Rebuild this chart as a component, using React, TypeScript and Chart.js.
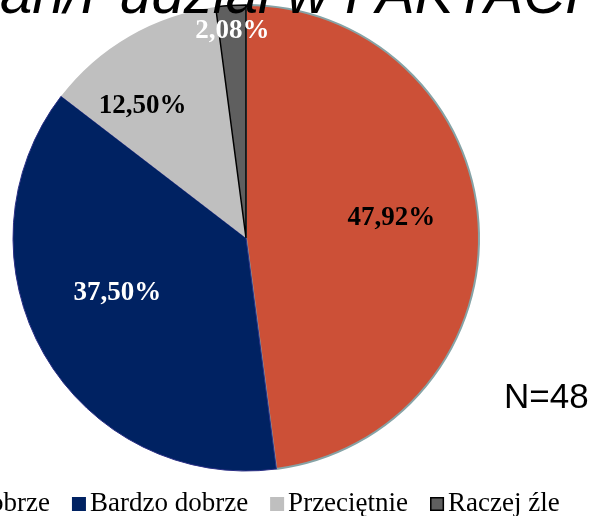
import React, { useEffect, useRef } from "react";
import { Chart, registerables } from "chart.js";

Chart.register(...registerables);

// ---- data ----
const categories = ["Raczej dobrze", "Bardzo dobrze", "Przeciętnie", "Raczej źle"];
const percentages = [47.92, 37.5, 12.5, 2.08];
const percentLabels = ["47,92%", "37,50%", "12,50%", "2,08%"];
const titleText = "an/Pudział w FAKTACH";
const sampleNote = "N=48";

// ---- styles ----
const sliceColors = ["#CC5037", "#002262", "#BFBFBF", "#5F5F5F"];
const sliceBorderColors = ["#86A3A6", "#2B2F85", "#BFBFBF", "#000000"];
const sliceBorderWidths = [2, 1, 0, 1.5];
const labelColors = ["#000000", "#FFFFFF", "#000000", "#FFFFFF"];
// [fraction of radius, angle nudge in degrees]
const labelPlacement: [number, number][] = [
  [0.63, -4],
  [0.6, 7],
  [0.72, -8],
  [0.89, 0],
];

const SERIF = '"Liberation Serif", "Times New Roman", serif';
const SANS = '"Liberation Sans", Arial, sans-serif';

const decorPlugin = {
  id: "decor",
  afterDatasetsDraw(chart: any) {
    const ctx = chart.ctx as CanvasRenderingContext2D;
    const meta = chart.getDatasetMeta(0);
    ctx.save();
    ctx.font = `bold 27px ${SERIF}`;
    ctx.textAlign = "center";
    ctx.textBaseline = "middle";
    meta.data.forEach((arc: any, i: number) => {
      const { x, y, startAngle, endAngle, outerRadius } = arc.getProps(
        ["x", "y", "startAngle", "endAngle", "outerRadius"],
        true
      );
      const [frac, nudge] = labelPlacement[i];
      const a = (startAngle + endAngle) / 2 + (nudge * Math.PI) / 180;
      const r = outerRadius * frac;
      ctx.fillStyle = labelColors[i];
      ctx.fillText(percentLabels[i], x + Math.cos(a) * r, y + Math.sin(a) * r);
    });
    ctx.restore();
  },
  afterDraw(chart: any) {
    const ctx = chart.ctx as CanvasRenderingContext2D;
    const area = chart.chartArea;
    ctx.save();

    // title (cut off at top)
    ctx.font = `italic 58px ${SANS}`;
    ctx.fillStyle = "#000000";
    ctx.textAlign = "left";
    ctx.textBaseline = "alphabetic";
    ctx.fillText(titleText, 0, 13);

    // N note
    ctx.font = `35px ${SANS}`;
    ctx.fillText(sampleNote, area.right + 24, area.top + 404);

    // legend
    ctx.font = `27px ${SERIF}`;
    const boxSize = 14;
    const boxGap = 4;
    const itemGap = 22;
    const widths = categories.map((c) => ctx.measureText(c).width);
    const total =
      widths.reduce((s, w) => s + boxSize + boxGap + w, 0) + itemGap * (categories.length - 1);
    const cx = (area.left + area.right) / 2 - 27;
    let x = cx - total / 2;
    const baseline = chart.height - 5;
    categories.forEach((c, i) => {
      ctx.fillStyle = sliceColors[i];
      ctx.fillRect(x, baseline - boxSize, boxSize, boxSize);
      if (i === 3) {
        ctx.strokeStyle = "#000000";
        ctx.lineWidth = 1.5;
        ctx.strokeRect(x + 0.75, baseline - boxSize + 0.75, boxSize - 1.5, boxSize - 1.5);
      }
      ctx.fillStyle = "#000000";
      ctx.fillText(c, x + boxSize + boxGap, baseline);
      x += boxSize + boxGap + widths[i] + itemGap;
    });
    ctx.restore();
  },
};

export default function App() {
  const canvasRef = useRef<HTMLCanvasElement | null>(null);

  useEffect(() => {
    if (!canvasRef.current) return;
    const chart = new Chart(canvasRef.current, {
      type: "pie",
      data: {
        labels: categories,
        datasets: [
          {
            data: percentages,
            backgroundColor: sliceColors,
            borderColor: sliceBorderColors,
            borderWidth: sliceBorderWidths,
          },
        ],
      },
      options: {
        responsive: false,
        animation: false,
        devicePixelRatio: 1,
        layout: { padding: { top: 4, left: 12, right: 110, bottom: 44 } },
        plugins: {
          legend: { display: false },
          title: { display: false },
          tooltip: { enabled: false },
        },
      },
      plugins: [decorPlugin],
    });
    return () => chart.destroy();
  }, []);

  return (
    <div
      style={{
        position: "fixed",
        left: 0,
        top: 0,
        width: 590,
        height: 516,
        background: "#ffffff",
        overflow: "hidden",
      }}
    >
      <canvas ref={canvasRef} width={590} height={516} style={{ display: "block" }} />
    </div>
  );
}
